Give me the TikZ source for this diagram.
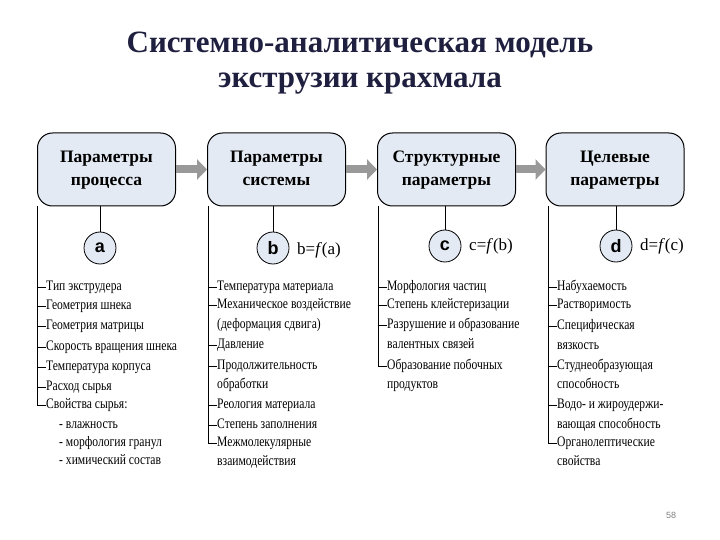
\documentclass[tikz,border=0pt]{standalone}
\usepackage{fontspec}
\setmainfont{Liberation Serif}
\newfontfamily\cond[FakeStretch=0.8]{Liberation Serif}
\newfontfamily\sansf{Liberation Sans}
\usetikzlibrary{arrows.meta}
\definecolor{boxfill}{HTML}{E4EAF3}
\definecolor{titlec}{HTML}{1F1F3F}
\tikzset{
 pbox/.style={draw=black,line width=1pt,rounded corners=15pt,fill=boxfill,minimum width=138pt,minimum height=73pt,align=center,font=\bfseries\fontsize{17.5}{23}\selectfont},
 circ/.style={circle,draw=black,line width=0.8pt,fill=boxfill,minimum size=32pt,inner sep=0pt,font=\sansf\bfseries\fontsize{18}{18}\selectfont},
 item/.style={anchor=west,align=left,inner sep=0pt,text height=10pt,text depth=3.5pt,font=\cond\fontsize{14.5}{19.5}\selectfont},
 fn/.style={anchor=west,inner sep=0pt,font=\fontsize{17}{17}\selectfont},
 flow/.style={-{Triangle[length=10pt,width=20pt]},line width=8pt,draw=gray!80},
 thin/.style={line width=0.6pt}
}
\newcommand{\itm}[4]{% name, bar x, y, text
 \node[item] (#1) at (#2+9,#3) {#4};
 \draw[thin] (#2,#3) -- (#1.west);
}
\begin{document}
\begin{tikzpicture}[x=1pt,y=-1pt]
\useasboundingbox (0,0) rectangle (720,540);
\node[font=\bfseries\fontsize{31}{35}\selectfont,text=titlec,align=center] (title) at (360,63) {Системно-аналитическая модель\\экструзии крахмала};
\node[pbox] (b1) at (106.5,169.5) {\strut Параметры\\\strut процесса};
\node[pbox] (b2) at (276.5,169.5) {\strut Параметры\\\strut системы};
\node[pbox] (b3) at (446.5,169.5) {\strut Структурные\\\strut параметры};
\node[pbox] (b4) at (615,169.5) {\strut Целевые\\\strut параметры};
\draw[flow] (b1) -- (b2);
\draw[flow] (b2) -- (b3);
\draw[flow] (b3) -- (b4);
\node[circ] (ca) at (100,248) {a};
\node[circ] (cb) at (273,248) {b};
\node[circ] (cc) at (445,246) {c};
\node[circ] (cd) at (616,246) {d};
\draw[thin] (ca |- b1.south) -- (ca);
\draw[thin] (cb |- b2.south) -- (cb);
\draw[thin] (cc |- b3.south) -- (cc);
\draw[thin] (cd |- b4.south) -- (cd);
\node[fn] (fb) at (297,250) {b=\textit{f}(a)};
\node[fn] (fc) at (469,246) {c=\textit{f}(b)};
\node[fn] (fd) at (640,246) {d=\textit{f}(c)};
% column 1
\draw[thin] (37,206) -- (37,405);
\itm{a1}{37}{287}{Тип экструдера}
\itm{a2}{37}{306}{Геометрия шнека}
\itm{a3}{37}{326}{Геометрия матрицы}
\itm{a4}{37}{347}{Скорость вращения шнека}
\itm{a5}{37}{367}{Температура корпуса}
\itm{a6}{37}{387}{Расход сырья}
\itm{a7}{37}{405}{Свойства сырья:}
\node[item] (a8) at (59,425) {- влажность};
\node[item] (a9) at (59,443) {- морфология гранул};
\node[item] (a10) at (59,461) {- химический состав};
% column 2
\draw[thin] (208,206) -- (208,443);
\itm{b1i}{208}{287}{Температура материала}
\itm{b2i}{208}{305}{Механическое воздействие}
\node[item] (b2c) at (217,325) {(деформация сдвига)};
\itm{b3i}{208}{345}{Давление}
\itm{b4i}{208}{366}{Продолжительность}
\node[item] (b4c) at (217,385) {обработки};
\itm{b5i}{208}{405}{Реология материала}
\itm{b6i}{208}{425}{Степень заполнения}
\itm{b7i}{208}{443}{Межмолекулярные}
\node[item] (b7c) at (217,462) {взаимодействия};
% column 3
\draw[thin] (378,206) -- (378,366);
\itm{c1i}{378}{287}{Морфология частиц}
\itm{c2i}{378}{305}{Степень клейстеризации}
\itm{c3i}{378}{325}{Разрушение и образование}
\node[item] (c3c) at (387,345) {валентных связей};
\itm{c4i}{378}{366}{Образование побочных}
\node[item] (c4c) at (387,385) {продуктов};
% column 4
\draw[thin] (548,206) -- (548,443);
\itm{d1i}{548}{287}{Набухаемость}
\itm{d2i}{548}{305}{Растворимость}
\itm{d3i}{548}{326}{Специфическая}
\node[item] (d3c) at (557,346) {вязкость};
\itm{d4i}{548}{366}{Студнеобразующая}
\node[item] (d4c) at (557,385) {способность};
\itm{d5i}{548}{405}{Водо- и жироудержи-}
\node[item] (d5c) at (557,425) {вающая способность};
\itm{d6i}{548}{443}{Органолептические}
\node[item] (d6c) at (557,462) {свойства};
\node[font=\sansf\fontsize{9}{9}\selectfont,text=gray] (pg) at (671,515) {58};
\end{tikzpicture}
\end{document}
